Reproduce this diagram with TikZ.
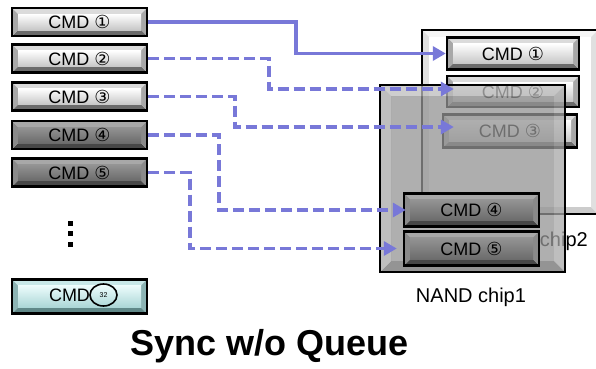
\documentclass[tikz,border=0pt]{standalone}
\usepackage{fontspec}
\setmainfont{Liberation Sans}
\newfontfamily\circfont{DejaVu Sans}
\usetikzlibrary{arrows.meta,shapes.geometric,calc}
\definecolor{arrc}{RGB}{120,120,216}
\definecolor{cyf1}{RGB}{236,252,252}
\definecolor{cyf2}{RGB}{170,214,214}
\definecolor{cyt}{RGB}{200,232,232}
\definecolor{cys}{RGB}{140,180,180}
\definecolor{cyb}{RGB}{96,136,136}
\newcommand{\circd}[1]{{\circfont #1}}
\begin{document}
\begin{tikzpicture}[x=1pt,y=1pt,
  bevw/.store in=\bevw, bevw=6pt,
  bevop/.store in=\bevop, bevop=1,
  facelight/.style={top color=white, bottom color=black!22},
  facedark/.style={top color=black!42, bottom color=black!58},
  facecyan/.style={top color=cyf1, bottom color=cyf2},
  facewhite/.style={fill=white},
  facechip/.style={fill=black!42},
  bev/.style n args={4}{path picture={
    \coordinate (bvA) at (path picture bounding box.north west);
    \coordinate (bvB) at (path picture bounding box.north east);
    \coordinate (bvC) at (path picture bounding box.south east);
    \coordinate (bvD) at (path picture bounding box.south west);
    \coordinate (bva) at ([xshift=\bevw,yshift=-\bevw]bvA);
    \coordinate (bvb) at ([xshift=-\bevw,yshift=-\bevw]bvB);
    \coordinate (bvc) at ([xshift=-\bevw,yshift=\bevw]bvC);
    \coordinate (bvd) at ([xshift=\bevw,yshift=\bevw]bvD);
    \fill[#2, fill opacity=\bevop] (bvA)--(bvB)--(bvb)--(bva)--cycle;
    \fill[#4, fill opacity=\bevop] (bvD)--(bvC)--(bvc)--(bvd)--cycle;
    \fill[#3, fill opacity=\bevop] (bvA)--(bvD)--(bvd)--(bva)--cycle;
    \fill[#3, fill opacity=\bevop] (bvB)--(bvC)--(bvc)--(bvb)--cycle;
    \fill[#1, fill opacity=\bevop] (bva) rectangle (bvc);
  }},
  btn/.style={draw=black, line width=2.4pt, minimum width=135pt, minimum height=28pt,
    inner sep=0pt, font=\fontsize{18}{20}\selectfont},
  lightbtn/.style={btn, bev={facelight}{black!14}{black!34}{black!58}},
  darkbtn/.style={btn, bev={facedark}{black!34}{black!46}{black!72}},
  cyanbtn/.style={btn, bev={facecyan}{cyt}{cys}{cyb}},
  chiplab/.style={font=\fontsize{20}{22}\selectfont, inner sep=0pt},
  arr/.style={draw=arrc, line width=3.5pt, -{Triangle[length=13pt,width=14pt]}},
  dsh/.style={arr, dash pattern=on 11pt off 5pt},
]
\useasboundingbox (0,0) rectangle (596,368);
\clip (0,0) rectangle (596,368);

% NAND chip2
\node[draw=black, line width=2pt, minimum width=176pt, minimum height=184pt, inner sep=0pt,
  bevw=7pt, bev={facewhite}{black!4}{black!12}{black!20}] (ch2) at (510,246) {};
\node[chiplab, anchor=east] (lab2) at (588,127) {chip2};
\node[lightbtn, minimum width=132pt, minimum height=32pt] (r1) at (513,314.5) {CMD \circd{①}};
\node[lightbtn, minimum width=132pt, minimum height=31pt] (r2) at (513,276.5) {CMD \circd{②}};
\node[lightbtn, minimum width=134pt, minimum height=33pt] (r3) at (510,237) {CMD \circd{③}};

% NAND chip1 (semi-transparent)
\node[draw=black, line width=2.5pt, minimum width=185pt, minimum height=187pt, inner sep=0pt,
  bevw=11pt, bevop=0.75, bev={facechip}{black!26}{black!34}{black!56}] (ch1) at (472.5,189.5) {};
\node[darkbtn, minimum height=33pt] (c4) at (471.5,158) {CMD \circd{④}};
\node[darkbtn, minimum height=34pt] (c5) at (471.5,119.5) {CMD \circd{⑤}};
\node[chiplab] (lab1) at (471,71) {NAND chip1};

% left column
\node[lightbtn] (l1) at (79.5,346) {CMD \circd{①}};
\node[lightbtn] (l2) at (79.5,309.5) {CMD \circd{②}};
\node[lightbtn] (l3) at (79.5,271.5) {CMD \circd{③}};
\node[darkbtn] (l4) at (79.5,233) {CMD \circd{④}};
\node[darkbtn] (l5) at (79.5,195.5) {CMD \circd{⑤}};
\node[cyanbtn, minimum height=34pt] (l32) at (79.5,71.5) {};
\node[font=\fontsize{18}{20}\selectfont, inner sep=0pt] (l32t) at (69.5,72.5) {CMD};
\node[draw=black, line width=1.6pt, ellipse, minimum width=27pt, minimum height=22pt,
  inner sep=0pt, font=\fontsize{7}{8}\selectfont] (n32) at (103.5,73) {32};
\foreach \yy in {145,134.5,124} \fill (67.5,\yy-2.5) rectangle (72.5,\yy+2.5);

% connectors
\draw[arr] (l1.east) -- ++(148,0) |- (r1.west);
\draw[dsh] (l2.east) -- ++(121,0) |- ([xshift=8pt,yshift=2.5pt]r2.west);
\draw[dsh] (l3.east) -- ++(87,0) |- ([xshift=12pt,yshift=4pt]r3.west);
\draw[dsh] (l4.east) -- ++(71,0) |- ([xshift=3pt]c4.west);
\draw[dsh] (l5.east) -- ++(42,0) |- ([xshift=-6pt]c5.west);

% title
\node[font=\fontsize{36}{40}\selectfont\bfseries, inner sep=0pt] (title) at (269.5,22) {Sync w/o Queue};
\end{tikzpicture}
\end{document}
